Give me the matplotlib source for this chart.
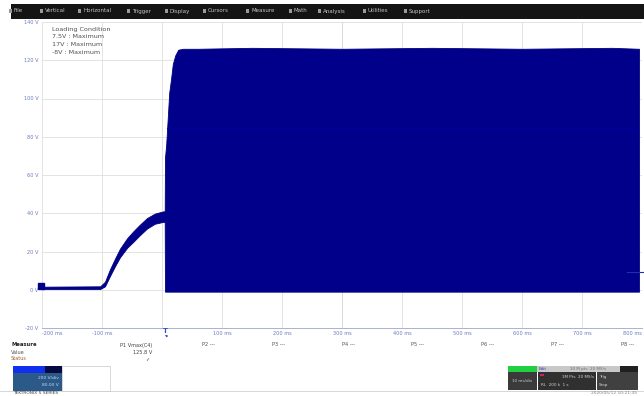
import matplotlib
matplotlib.use("Agg")
import matplotlib.pyplot as plt
from matplotlib.patches import Rectangle

# ---------------- data ----------------
menu_items = ["File", "Vertical", "Horizontal", "Trigger", "Display", "Cursors",
              "Measure", "Math", "Analysis", "Utilities", "Support"]
menu_x = [14, 45, 83, 132, 170, 208, 251, 294, 323, 368, 409]

legend_lines = ["Loading Condition", "7.5V : Maximum", "17V : Maximum", "-8V : Maximum"]

y_ticks = [-20, 0, 20, 40, 60, 80, 100, 120, 140]
y_tick_labels = ["-20 V", "0 V", "20 V", "40 V", "60 V", "80 V", "100 V", "120 V", "140 V"]
x_ticks = [-200, -100, 0, 100, 200, 300, 400, 500, 600, 700, 800]
x_tick_labels = ["-200 ms", "-100 ms", "", "100 ms", "200 ms", "300 ms", "400 ms",
                 "500 ms", "600 ms", "700 ms", "800 ms"]

# waveform envelope (ms, V): upper and lower edge of the displayed trace
t_env = [-200, -103, -95, -87, -78, -70, -58, -48, -37, -25, -12, 2, 4.5,
         5, 7, 10, 12, 15, 18, 22, 27, 35, 60, 150, 300, 450, 600, 750, 795]
v_hi = [1.6, 1.8, 4.2, 10.5, 16.5, 21.5, 27, 30.5, 34, 37.5, 39.8, 41, 41,
        69, 76, 92, 103, 110, 118, 122.5, 125.5, 126, 126, 126.5, 126, 126.5, 126, 126.5, 126]
v_lo = [0.4, 0.4, 1.8, 7, 12.5, 17, 22, 25, 28.5, 32, 34.5, 35.5, 35.5,
        -1, -1, -1, -1, -1, -1, -1, -1, -1, -1, -1, -1, -1, -1, -1, -1]
inner_level = 84.7

meas_slots = ["P2 ---", "P3 ---", "P4 ---", "P5 ---", "P6 ---", "P7 ---", "P8 ---"]
meas_slot_x = [202, 272, 342, 411, 481, 551, 621]

# ---------------- figure ----------------
W, H = 644, 396
fig = plt.figure(figsize=(W / 100, H / 100), dpi=100)
fig.patch.set_facecolor("white")


def fx(x):
    return x / W


def fy(y):
    return 1 - y / H


def rect(x0, y0, x1, y1, color, **kw):
    fig.patches.append(Rectangle((fx(x0), fy(y1)), (x1 - x0) / W, (y1 - y0) / H,
                                 transform=fig.transFigure, facecolor=color,
                                 edgecolor=kw.pop("ec", "none"), lw=kw.pop("lw", 0), **kw))


def ftext(x, y, s, **kw):
    kw.setdefault("fontsize", 4)
    kw.setdefault("va", "center")
    fig.text(fx(x), fy(y), s, **kw)


# top menu bar
rect(10.5, 3.5, 644, 19, "#141414")
for item, x in zip(menu_items, menu_x):
    rect(x - 5, 8.5, x - 2, 13, "#9a9a9a")
    ftext(x, 11, item, color="#c4c4c4", fontsize=4)

# main plot axes
ax = fig.add_axes([fx(42), fy(328), 600 / W, 306 / H])
ax.set_xlim(-200, 800)
ax.set_ylim(-20, 140)
ax.set_facecolor("white")
ax.set_yticks(y_ticks)
ax.set_yticklabels(y_tick_labels)
ax.set_xticks(x_ticks)
ax.set_xticklabels(x_tick_labels)
ax.tick_params(length=0, labelsize=3.6, colors="#6b78c0", pad=2.5)
labs = ax.get_xticklabels()
labs[0].set_ha("left")
labs[-1].set_ha("right")
ax.grid(True, color="#dedede", lw=0.6)
ax.axvline(300, color="#c8c8c8", lw=0.7, zorder=0)
for s in ["top", "right"]:
    ax.spines[s].set_visible(False)
ax.spines["left"].set_color("#e4e4e4")
ax.spines["left"].set_linewidth(0.6)
ax.spines["bottom"].set_color("#aab2d4")
ax.spines["bottom"].set_linewidth(0.7)

ax.fill_between(t_env, v_lo, v_hi, color="#00008a", lw=0.6, edgecolor="#000080", zorder=3)
ax.plot([9, 794], [inner_level, inner_level], color="#0000a0", lw=0.8, zorder=4)

# channel level markers
ax.plot([-202], [2], marker="s", ms=4, color="#000088", clip_on=False, zorder=5)
ax.plot([775, 802], [9.4, 9.4], color="#2030b0", lw=0.8, clip_on=False, zorder=5)

# trigger marker
ax.text(5, -20, "T", transform=ax.transData, fontsize=5, color="#3a50c0",
        ha="center", va="top", fontweight="bold")
ax.annotate("", xy=(2, -22.5), xytext=(12, -25.5),
            arrowprops=dict(arrowstyle="-|>", color="#3a50c0", lw=0.5,
                            mutation_scale=3), annotation_clip=False)

# legend text
for i, line in enumerate(legend_lines):
    ftext(52, 29 + 8 * i, line, color="#505050", fontsize=4.6)

# measurement row
ftext(11, 345, "Measure", color="#202020", fontsize=3.8, fontweight="bold")
ftext(11, 352, "Value", color="#505050", fontsize=3.6)
ftext(11, 359, "Status", color="#a06030", fontsize=3.6)
ftext(152, 345, "P1 Vmax(C4)", color="#404040", fontsize=3.6, ha="right")
ftext(152, 352, "125.8 V", color="#404040", fontsize=3.6, ha="right")
ftext(150, 359, "\u2713", color="#404040", fontsize=3.6, ha="right")
for s, x in zip(meas_slots, meas_slot_x):
    ftext(x, 345, s, color="#505050", fontsize=3.6)

# bottom-left channel badge
rect(13, 366, 45, 373, "#1030f0")
rect(45, 366, 62, 373, "#060a40")
rect(13, 373, 62, 391, "#2c5a88")
ftext(59, 378, "200 V/div", color="#c8d8f0", fontsize=3.2, ha="right")
ftext(59, 385, "80.00 V", color="#c8d8f0", fontsize=3.2, ha="right")
rect(62, 366, 110, 391, "white", ec="#c8c8c8", lw=0.5)

# bottom-right status panel
rect(508, 366, 537, 372, "#20d040")
rect(537, 366, 620, 372, "#c8c8c8")
ftext(539, 369, "Edit", color="#3040b0", fontsize=3)
ftext(570, 369, "10 M pts  20 MS/s", color="#707070", fontsize=3)
rect(620, 366, 638, 372, "#202020")
rect(508, 372, 537, 390, "#3a3a3a")
ftext(522, 381, "10 ms/div", color="#d0d0d0", fontsize=3, ha="center")
rect(538, 372, 596, 390, "#303030")
ftext(594, 377, "1M Pts  20 MS/s", color="#d0d0d0", fontsize=3, ha="right")
ftext(541, 385, "RL  200 k  1 s", color="#d0d0d0", fontsize=3)
rect(540, 374, 544, 376, "#d02060")
rect(597, 372, 638, 390, "#404040")
ftext(599, 377, "Trig", color="#d0d0d0", fontsize=3)
ftext(599, 385, "Stop", color="#d0d0d0", fontsize=3)
fig.lines.append(plt.Line2D([0, 1], [fy(391), fy(391)], transform=fig.transFigure,
                            color="#d0d0d0", lw=0.6))

ftext(13, 393.5, "TEKTRONIX 5 SERIES", color="#404040", fontsize=3.2)
ftext(637, 393.5, "2020/05/12 10:21:35", color="#808080", fontsize=3.2, ha="right")

fig.savefig("out.png", dpi=100, facecolor="white")
